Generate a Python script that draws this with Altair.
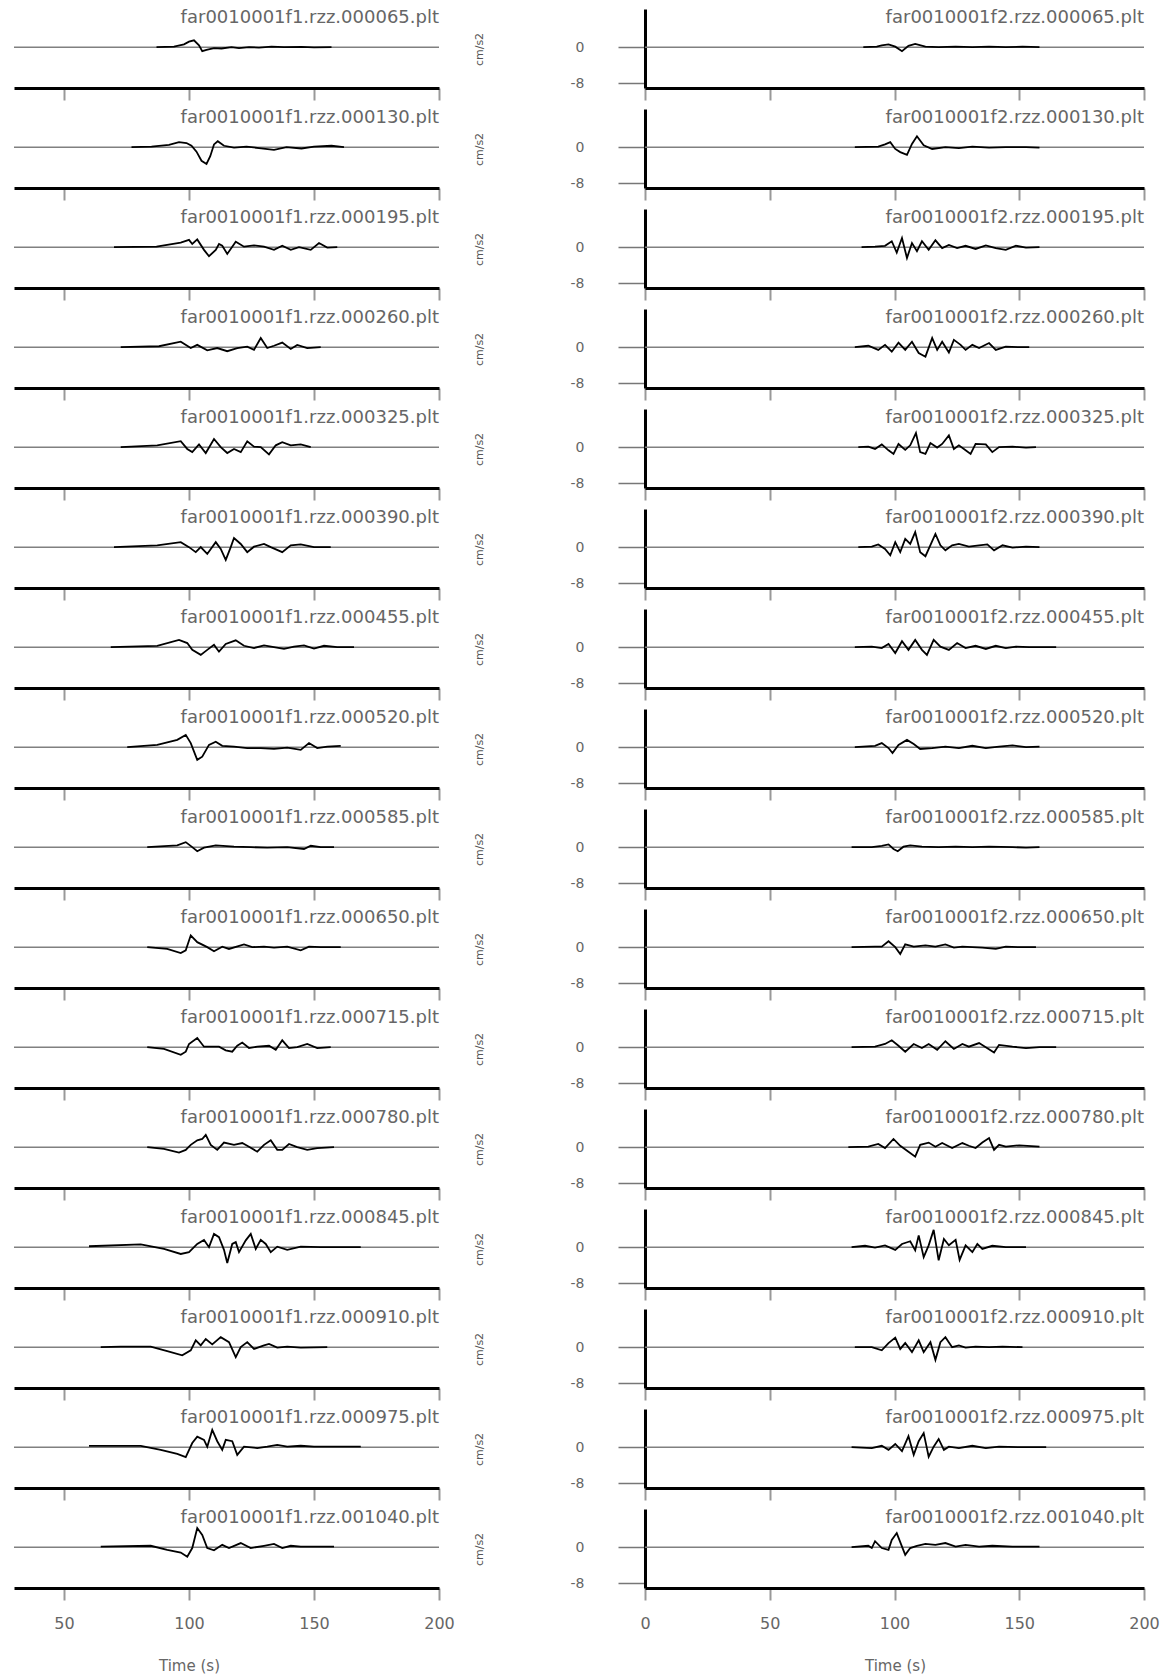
import altair as alt
import pandas as pd

# file suffixes of the 16 records
ids = ["000065", "000130", "000195", "000260", "000325", "000390", "000455", "000520",
       "000585", "000650", "000715", "000780", "000845", "000910", "000975", "001040"]
left_titles = [f"far0010001f1.rzz.{s}.plt" for s in ids]
right_titles = [f"far0010001f2.rzz.{s}.plt" for s in ids]

left_xticks = [50, 100, 150, 200]
right_xticks = [0, 50, 100, 150, 200]
right_yticks = [0, -8]

# ---- left column traces (f1): time (s), acceleration (cm/s2)
L01_t = [87, 94, 98, 100, 102, 104, 105.3, 107, 110, 113, 117, 120, 124, 128, 133, 138, 145, 150, 157]
L01_a = [0, 0.1, 0.6, 1.2, 1.5, 0.4, -0.9, -0.6, -0.2, -0.3, 0, -0.2, 0, -0.1, 0.1, 0, 0.05, -0.05, 0]
L02_t = [77, 85, 92, 96, 99, 101, 103, 105, 107, 108.5, 110, 111.5, 114, 118, 123, 128, 134, 139, 145, 150, 157, 162]
L02_a = [0, 0.1, 0.5, 1.1, 0.9, 0.3, -1.0, -3.0, -3.7, -2.0, 0.6, 1.3, 0.3, -0.1, 0.1, -0.2, -0.6, 0.0, -0.3, 0.1, 0.3, 0.0]
L03_t = [70, 87, 96.7, 100, 101.3, 103.3, 106, 108, 110.7, 112, 113.3, 115.3, 118.7, 122, 126, 130, 134, 137.3, 140.7, 144, 148.7, 152, 155.3, 159.3]
L03_a = [0, 0.1, 1.0, 1.6, 0.7, 1.7, -0.6, -2.0, -0.6, 0.7, 0.3, -1.5, 1.2, 0.1, 0.4, 0.1, -0.6, 0.3, -0.6, 0, -0.6, 0.9, -0.1, 0]
L04_t = [72.7, 88, 96.7, 100.7, 103.3, 107.3, 111.3, 115.3, 119.3, 123.3, 126, 128.7, 131.3, 134, 137.3, 140.7, 143.3, 147.3, 152.7]
L04_a = [0, 0.2, 1.2, -0.2, 0.5, -0.7, -0.2, -0.9, -0.2, 0.1, -0.6, 2.0, -0.2, 0.3, 1.0, -0.4, 0.5, -0.2, 0]
L05_t = [72.7, 87.3, 96.7, 99.3, 101.3, 104, 106.7, 110, 112.7, 115.3, 118, 120.7, 123.3, 126, 128.7, 132, 134.7, 137.3, 140.7, 144.7, 148.7]
L05_a = [0, 0.4, 1.3, -0.4, -1.1, 0.6, -1.3, 1.8, 0, -1.3, -0.4, -1.1, 1.3, 0.1, 0, -1.6, 0.4, 1.1, 0.4, 0.6, 0]
L06_t = [70, 87.3, 96.7, 100, 102.7, 104.7, 107.3, 110.7, 112.7, 114.7, 116.7, 118, 120.7, 123.3, 126, 130, 132.7, 137.3, 140.7, 144.7, 150, 156.7]
L06_a = [0, 0.4, 1.1, 0, -1.1, 0, -1.5, 1.1, -0.4, -2.8, 0, 2.0, 0.7, -1.1, 0.1, 0.7, 0, -1.1, 0.4, 0.6, 0, 0]
L07_t = [68.7, 87.3, 96, 99.3, 101.3, 104.7, 107.3, 110, 112, 114.7, 118.7, 122, 126, 130, 134, 138, 142, 146, 150, 154, 159.3, 166]
L07_a = [0, 0.3, 1.6, 0.9, -0.6, -1.7, -0.6, 0.5, -1.0, 0.7, 1.5, 0.3, -0.2, 0.4, 0, -0.4, 0.1, 0.4, -0.3, 0.3, 0, 0]
L08_t = [75.3, 87.3, 95.3, 98.7, 100.7, 103.3, 105.3, 108, 110.7, 113.3, 118, 123.3, 128.7, 134, 139.3, 144.7, 148, 151.3, 155.3, 160.7]
L08_a = [0, 0.5, 1.6, 2.7, 0.9, -2.8, -2.1, 0.5, 1.2, 0.3, 0.1, -0.2, -0.2, -0.4, -0.1, -0.6, 0.9, -0.2, 0.1, 0.3]
L09_t = [83.3, 95.3, 98.7, 101.3, 103.3, 106, 110.7, 118, 124.7, 131.3, 139.3, 146, 148.7, 152.7, 158]
L09_a = [0, 0.4, 1.1, 0, -0.9, -0.1, 0.4, 0.1, 0, -0.1, 0, -0.4, 0.3, 0, 0]
L10_t = [83.3, 91.3, 96.7, 98.7, 100.7, 103.3, 107.3, 110, 113.3, 116, 122, 125.3, 130, 134, 139.3, 144.7, 148, 152.7, 160.7]
L10_a = [0, -0.4, -1.3, -0.7, 2.6, 1.1, 0, -0.9, 0.1, -0.4, 0.6, 0, 0.1, -0.1, 0.1, -0.7, 0.1, 0, 0]
L11_t = [83.3, 90, 96.7, 98.7, 100, 103.3, 106, 110, 112, 114.7, 117.3, 119.3, 121.3, 124, 127.3, 132, 134.7, 137.3, 140, 143.3, 147.3, 151.3, 156.7]
L11_a = [0, -0.4, -1.7, -1.0, 0.7, 2.0, 0.1, 0.1, 0.1, -0.7, -1.0, 0.3, 1.0, -0.2, 0.1, 0.3, -0.6, 1.5, -0.2, 0, 0.7, -0.2, 0]
L12_t = [83.3, 90, 96, 98.7, 100.7, 103.3, 105.3, 106.7, 108.7, 111.3, 114, 118, 121.3, 124, 127.3, 130, 132.7, 135.3, 137.3, 140, 143.3, 147.3, 151.3, 158]
L12_a = [0, -0.4, -1.2, -0.6, 0.5, 1.5, 1.8, 2.7, 0.5, -0.6, 1.0, 0.5, 0.9, 0.1, -1.0, 0.5, 1.5, -0.6, -0.6, 0.7, 0, -0.6, -0.2, 0]
L13_t = [60, 80.7, 90, 96.7, 100, 103.3, 106, 108, 110, 112, 114, 115.3, 117.3, 118.7, 120, 122.7, 124.7, 126.7, 128.7, 130.7, 132.7, 135.3, 139.3, 144.7, 152.7, 168.7]
L13_a = [0.2, 0.6, -0.4, -1.5, -1.1, 0.7, 1.6, 0, 2.9, 2.2, -0.6, -3.5, 0.7, 1.1, -1.1, 1.5, 2.9, -0.4, 1.6, 0.7, -1.1, 0.1, -0.6, 0.1, 0, 0]
L14_t = [64.7, 72.7, 84.7, 91.3, 97.3, 100.7, 102.7, 104.7, 106.7, 109.3, 112.7, 116, 118.7, 120.7, 123.3, 126, 130, 132, 135.3, 139.3, 144.7, 155.3]
L14_a = [0, 0.1, 0.1, -0.9, -1.8, -0.7, 1.5, 0.4, 1.8, 0.6, 2.2, 1.1, -2.2, 0, 1.1, -0.4, 0.4, 0.7, -0.1, 0.1, -0.1, 0]
L15_t = [60, 80.7, 88.7, 95.3, 98.7, 101.3, 103.3, 106, 107.3, 109.3, 111.3, 113.3, 114.7, 117.3, 119.3, 122, 127.3, 131.3, 135.3, 139.3, 144.7, 150, 168.7]
L15_a = [0.3, 0.3, -0.6, -1.5, -2.2, 0.9, 2.3, 1.6, 0.1, 3.8, 1.3, -0.6, 1.6, 1.3, -1.7, 0.1, -0.2, 0.1, 0.5, 0.1, 0.3, 0.1, 0.1]
L16_t = [64.7, 84.7, 91.3, 96.7, 99.3, 101.3, 103.3, 105.3, 107.3, 110, 113.3, 116, 120.7, 124.7, 130, 134, 137.3, 140.7, 144.7, 158]
L16_a = [0.1, 0.3, -0.6, -1.2, -2.1, -0.2, 4.2, 2.7, -0.2, -0.7, 0.5, -0.2, 0.9, -0.2, 0.3, 0.7, -0.2, 0.3, 0.1, 0.1]

# ---- right column traces (f2)
R01_t = [87.5, 92.9, 94.9, 97.6, 100.3, 103, 105.6, 108.3, 112.4, 117.7, 124.5, 131.2, 137.9, 144.6, 151.3, 158.1]
R01_a = [0, 0.1, 0.4, 0.6, 0.1, -0.9, 0.3, 0.7, 0.1, 0, 0.1, 0, 0.1, 0, 0.1, 0]
R02_t = [84.1, 93.5, 96.2, 98.3, 100.3, 102.3, 105, 107, 109, 111.7, 115.1, 120.4, 125.8, 131.2, 137.9, 144.6, 152.7, 158.1]
R02_a = [0, 0.1, 0.6, 1.1, -0.4, -1.1, -1.7, 0.7, 2.4, 0.4, -0.4, 0, -0.2, 0.1, -0.1, 0, 0, -0.1]
R03_t = [86.8, 92.2, 96.2, 98.9, 100.9, 103, 105, 107, 109, 111, 113.7, 116.4, 119.1, 121.8, 125.1, 128.5, 132.5, 136.6, 140.6, 144.6, 148.7, 152.7, 158.1]
R03_a = [0, 0.1, 0.3, 1.3, -1.2, 2.0, -2.4, 0.9, -0.9, 1.3, -0.6, 1.5, -0.2, 0.5, -0.2, 0.3, -0.4, 0.4, -0.2, -0.6, 0.3, -0.1, 0]
R04_t = [84.1, 89.5, 93.5, 96.2, 98.9, 101.6, 104.3, 107, 109.7, 112.4, 115.1, 117.1, 119.1, 121.8, 123.8, 126.5, 128.5, 131.2, 133.9, 137.9, 140.6, 144.6, 150, 154]
R04_a = [0, 0.3, -0.6, 0.5, -1.0, 1.0, -0.6, 1.2, -1.3, -2.1, 2.0, -0.6, 1.2, -1.2, 1.6, 0.5, -0.6, 0.5, -0.2, 0.9, -0.6, 0.1, 0, 0]
R05_t = [85.5, 89.5, 92.2, 94.9, 97.6, 99.6, 101.6, 104.3, 106.3, 108.6, 110.3, 112.4, 114.4, 117.1, 119.1, 121.8, 123.8, 125.8, 128.5, 130.5, 132.5, 136.6, 139.2, 141.9, 147.3, 152.7, 156.7]
R05_a = [0, 0.1, -0.4, 0.6, -0.7, -1.5, 0.7, -0.6, 0.4, 3.1, -1.1, -1.5, 0.9, -0.1, 0.7, 2.6, -0.4, 0.4, -0.7, -1.5, 0.7, 0.6, -1.1, 0, 0.1, -0.1, 0]
R06_t = [85.5, 90.9, 93.5, 96.2, 98.3, 100.3, 102.3, 104.3, 106.3, 108.3, 110.3, 112.4, 116.4, 118.4, 120.4, 123.1, 125.8, 129.8, 133.9, 137.2, 139.9, 143.3, 147.3, 152.7, 158.1]
R06_a = [0, 0.1, 0.6, -0.4, -1.8, 1.1, -1.1, 1.8, 0.7, 3.3, -1.1, -2.0, 2.9, 0.4, -0.7, 0.4, 0.7, 0.1, 0.4, 0.6, -0.7, 0.4, -0.1, 0.1, 0]
R07_t = [84.1, 90.9, 94.9, 97.6, 100.3, 103, 105.6, 108.3, 111, 113, 115.7, 118.4, 121.8, 125.1, 128.5, 132.5, 136.6, 140.6, 144.6, 148.7, 154, 164.8]
R07_a = [0, 0.1, -0.2, 0.7, -1.3, 1.3, -0.6, 1.6, -0.6, -1.7, 1.6, 0.1, -0.6, 0.9, -0.2, 0.3, -0.4, 0.3, -0.2, 0.1, 0, 0]
R08_t = [84.1, 92.2, 94.9, 97.6, 99.2, 101.6, 105, 107.7, 110.3, 115.1, 120.4, 125.8, 131.2, 136.6, 141.9, 147.3, 152.7, 158.1]
R08_a = [0, 0.3, 0.9, -0.2, -1.3, 0.5, 1.6, 0.7, -0.4, -0.2, 0.1, -0.2, 0.3, -0.2, 0.1, 0.4, 0, 0.1]
R09_t = [82.8, 90.9, 94.9, 97.6, 99.6, 101.3, 103.6, 106.3, 111, 117.7, 124.5, 131.2, 137.9, 147.3, 152.7, 158.1]
R09_a = [0, 0, 0.3, 0.6, -0.4, -0.9, 0.1, 0.4, 0.1, 0, 0.1, 0, 0.1, 0, -0.1, 0]
R10_t = [82.8, 92.2, 94.9, 97.6, 100.3, 102.3, 104.3, 107.7, 112.4, 116.4, 120.4, 123.8, 127.2, 131.2, 135.2, 140.6, 144.6, 150, 156.7]
R10_a = [0, 0.1, 0.1, 1.3, 0, -1.5, 0.6, 0.1, 0.4, 0.1, 0.6, -0.1, 0.1, 0, -0.1, -0.4, 0.1, 0, 0]
R11_t = [82.8, 92.2, 96.2, 98.9, 101.6, 104.3, 107.7, 111, 113.7, 117.1, 120.4, 123.8, 127.2, 129.8, 133.9, 136.6, 139.9, 141.9, 147.3, 152.7, 158.1, 164.8]
R11_a = [0, 0.1, 0.7, 1.5, 0.3, -1.0, 0.7, -0.2, 0.7, -0.6, 1.3, -0.4, 0.7, 0.1, 0.9, 0, -1.2, 0.5, 0.1, -0.2, 0, 0]
R12_t = [81.5, 89.5, 93.5, 96.2, 99.6, 102.3, 105.6, 108.3, 110.3, 113.7, 116.4, 119.1, 123.1, 127.2, 129.8, 132.5, 135.2, 137.9, 139.9, 141.9, 144.6, 150, 158.1]
R12_a = [0, 0.1, 0.7, -0.2, 1.8, 0.3, -1.0, -2.1, 0.5, 1.0, 0.1, 0.9, -0.2, 0.9, 0.3, -0.2, 1.0, 2.0, -0.6, 0.5, 0.1, 0.4, 0.1]
R13_t = [82.8, 88.2, 92.2, 96.2, 100.3, 103, 106.3, 108.3, 109.7, 111.7, 113.7, 115.7, 117.7, 119.8, 121.8, 124.5, 126.1, 128.5, 131.2, 133.2, 135.2, 139.2, 144.6, 152.7]
R13_a = [0, 0.3, -0.1, 0.4, -0.6, 0.7, 1.3, -0.7, 2.6, -2.2, 0.4, 3.8, -2.9, 1.8, 0.4, 1.6, -2.8, 0.4, -1.1, 0.7, -0.4, 0.3, 0, 0]
R14_t = [84.1, 90.9, 94.9, 97.6, 100.3, 102.3, 104.3, 107, 109.7, 111.7, 114.4, 116.4, 118.4, 120.4, 123.1, 125.8, 128.5, 132.5, 137.9, 143.3, 151.3]
R14_a = [0, 0, -0.7, 0.9, 2.1, -0.4, 0.9, -1.1, 1.5, -1.1, 1.1, -2.8, 1.1, 2.2, 0, 0.4, -0.1, 0.1, 0, 0.1, 0]
R15_t = [82.8, 90.9, 94.9, 97.6, 100.3, 103, 105.6, 107.7, 109.7, 111.7, 113.7, 115.7, 117.7, 119.8, 121.8, 125.8, 131.2, 136.6, 141.9, 150, 160.8]
R15_a = [0, -0.2, 0.3, -0.6, 0.7, -0.9, 2.4, -1.7, 1.3, 3.1, -2.1, 0.1, 1.8, -0.6, 0.1, -0.2, 0.3, -0.2, 0.1, 0, 0]
R16_t = [82.8, 89.5, 90.9, 92.2, 94.9, 97.6, 98.9, 100.9, 103, 104.3, 106.3, 109, 112.4, 116.4, 120.4, 124.5, 128.5, 133.9, 139.2, 147.3, 158.1]
R16_a = [0, 0.3, -0.2, 1.3, -0.2, -0.6, 1.6, 3.1, 0.1, -1.7, -0.2, 0.3, 0.7, 0.5, 0.9, 0.1, 0.5, 0.1, 0.3, 0.1, 0.1]

left_traces = [(L01_t, L01_a), (L02_t, L02_a), (L03_t, L03_a), (L04_t, L04_a),
               (L05_t, L05_a), (L06_t, L06_a), (L07_t, L07_a), (L08_t, L08_a),
               (L09_t, L09_a), (L10_t, L10_a), (L11_t, L11_a), (L12_t, L12_a),
               (L13_t, L13_a), (L14_t, L14_a), (L15_t, L15_a), (L16_t, L16_a)]
right_traces = [(R01_t, R01_a), (R02_t, R02_a), (R03_t, R03_a), (R04_t, R04_a),
                (R05_t, R05_a), (R06_t, R06_a), (R07_t, R07_a), (R08_t, R08_a),
                (R09_t, R09_a), (R10_t, R10_a), (R11_t, R11_a), (R12_t, R12_a),
                (R13_t, R13_a), (R14_t, R14_a), (R15_t, R15_a), (R16_t, R16_a)]

FONT = "DejaVu Sans"
GRAY = "#666666"
H = 79
YDOM = [-9, 8.4]


def panel(t, a, title, side, last):
    if side == 0:
        xdom, W, xt, tx = [30, 200], 425, left_xticks, 175
    else:
        xdom, W, xt, tx = [0, 200], 499, right_xticks, 250
    xscale = alt.Scale(domain=xdom, nice=False, zero=False)
    yscale = alt.Scale(domain=YDOM, nice=False, zero=False)

    xkw = dict(values=xt, grid=False, domainColor="black", domainWidth=3,
               tickColor="#999999", tickWidth=2, tickSize=12, labels=last,
               labelFlush=False, labelPadding=15, labelFontSize=16,
               labelColor=GRAY, labelFont=FONT)
    if last:
        xkw.update(title="Time (s)", titleFontSize=15, titleColor=GRAY,
                   titleFontWeight="normal", titleFont=FONT, titleX=tx, titleY=70,
                   titleAlign="center", titleBaseline="top")
        xaxis = alt.Axis(**xkw)
    else:
        xaxis = alt.Axis(title=None, **xkw)

    if side == 1:
        yaxis = alt.Axis(values=right_yticks, grid=False, domainColor="black",
                         domainWidth=3, tickColor="#777777", tickWidth=1.5,
                         tickSize=27, labelPadding=34, labelFontSize=14,
                         labelColor=GRAY, labelFont=FONT,
                         labelExpr="toString(datum.value)",
                         title="cm/s2", titleX=-166, titleY=40, titleAngle=270,
                         titleAlign="center", titleBaseline="middle",
                         titleFontSize=11, titleFontWeight="normal",
                         titleColor="#555555", titleFont=FONT)
    else:
        yaxis = None

    df = pd.DataFrame({"t": t, "a": a})
    zero = alt.Chart(pd.DataFrame({"z": [0]})).mark_rule(
        color="#808080", strokeWidth=1.5
    ).encode(y=alt.Y("z:Q", scale=yscale, axis=yaxis))
    line = alt.Chart(df).mark_line(color="black", strokeWidth=1.8).encode(
        x=alt.X("t:Q", scale=xscale, axis=xaxis),
        y=alt.Y("a:Q", scale=yscale, axis=yaxis),
    )
    label = alt.Chart(pd.DataFrame({"label": [title]})).mark_text(
        align="right", baseline="middle", fontSize=18, color=GRAY, font=FONT
    ).encode(x=alt.value(W), y=alt.value(9), text="label:N")
    return alt.layer(zero, line, label).properties(width=W, height=H)


panels = []
for i in range(16):
    last = i == 15
    lt, la = left_traces[i]
    rt, ra = right_traces[i]
    panels.append(panel(lt, la, left_titles[i], 0, last))
    panels.append(panel(rt, ra, right_titles[i], 1, last))

chart = alt.concat(
    *panels, columns=2, spacing={"row": 21, "column": 206},
    bounds="flush", align="each",
).properties(
    padding={"left": 13, "top": 9, "right": 5, "bottom": 2}
).configure(font=FONT).configure_view(stroke=None)

chart.save("out.html", embed_options={"renderer": "svg", "actions": False})
